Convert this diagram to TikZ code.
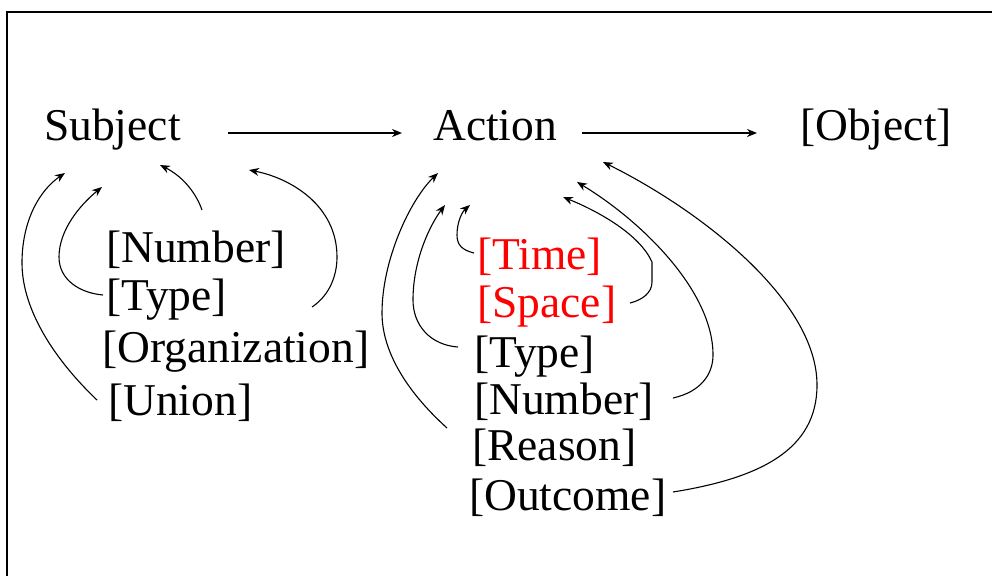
\documentclass[tikz,border=0pt]{standalone}
\usepackage{fontspec}
\setmainfont{Liberation Serif}
\usetikzlibrary{arrows.meta}
\begin{document}
\begin{tikzpicture}[x=1pt,y=-1pt,
  lbl/.style={anchor=base west, inner sep=0pt, font=\fontsize{45.5}{50}\selectfont},
  link/.style={line width=1.1pt, -{Stealth[length=10pt,width=8pt]}},
  flow/.style={line width=1.9pt, -{Stealth[length=10pt,width=8pt]}}]
\useasboundingbox (0,0) rectangle (992,576);
% frame: left and top edges only
\draw[line width=2.6pt] (7,576) -- (7,12) -- (992,12);

% main sentence
\node[lbl] (subj) at (44,140) {Subject};
\node[lbl] (act)  at (433,140) {Action};
\node[lbl] (obj)  at (800,140) {[Object]};
\draw[flow] ([shift={(184,-7)}]subj.base west) -- ([shift={(-31,-7)}]act.base west);
\draw[flow] ([shift={(149,-7)}]act.base west) -- ([shift={(-43,-7)}]obj.base west);

% modifiers of the subject
\node[lbl] (sNum)  at (106,262) {[Number]};
\node[lbl] (sType) at (106,310) {[Type]};
\node[lbl] (sOrg)  at (102,362) {[Organization]};
\node[lbl] (sUni)  at (108,415) {[Union]};

\draw[link] ([shift={(-11,-15)}]sUni.base west)
  .. controls (55,360) and (22,310) .. (22,263)
  .. controls (22,220) and (40,190) .. (65,173);
\draw[link] ([shift={(-3,-15)}]sType.base west)
  .. controls (80,293) and (59,280) .. (59,257)
  .. controls (59,230) and (80,205) .. (102,187);
\draw[link] ([shift={(96,-52)}]sNum.base west)
  .. controls (195,190) and (180,175) .. (160,165);
\draw[link] ([shift={(210,-55)}]sOrg.base west)
  .. controls (330,295) and (337,275) .. (337,257)
  .. controls (337,205) and (290,178) .. (249,170);

% modifiers of the action
\node[lbl,red] (aTime)  at (477,269) {[Time]};
\node[lbl,red] (aSpace) at (477,317) {[Space]};
\node[lbl] (aType) at (474,367) {[Type]};
\node[lbl] (aNum)  at (474,414) {[Number]};
\node[lbl] (aReas) at (472,460) {[Reason]};
\node[lbl] (aOut)  at (469,510) {[Outcome]};

\draw[link] ([shift={(-25,-32)}]aReas.base west)
  .. controls (405,390) and (382,350) .. (382,313)
  .. controls (382,260) and (410,200) .. (438,173);
\draw[link] ([shift={(-16,-20)}]aType.base west)
  .. controls (430,345) and (413,325) .. (413,300)
  .. controls (413,260) and (430,225) .. (445,205);
\draw[link] ([shift={(-3,-16)}]aTime.base west)
  .. controls (462,250) and (457,245) .. (457,235)
  .. controls (457,222) and (462,212) .. (470,205);
\draw[link] ([shift={(153,-14)}]aSpace.base west)
  .. controls (642,300) and (652,293) .. (652,282) -- (652,262)
  .. controls (640,235) and (600,212) .. (563,197);
\draw[link] ([shift={(199,-16)}]aNum.base west)
  .. controls (700,392) and (713,375) .. (713,355)
  .. controls (713,290) and (640,220) .. (577,182);
\draw[link] ([shift={(204,-18)}]aOut.base west)
  .. controls (760,478) and (817,450) .. (817,385)
  .. controls (817,300) and (700,210) .. (603,162);
\end{tikzpicture}
\end{document}
